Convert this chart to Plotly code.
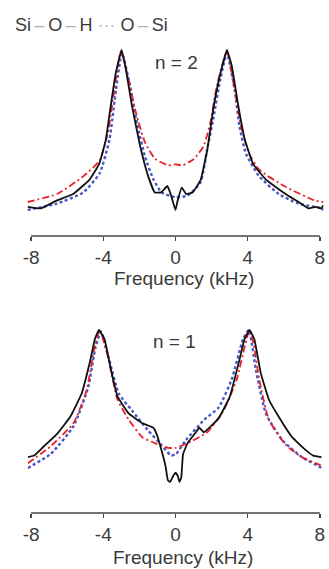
import plotly.graph_objects as go

# ---------------- data (frequency kHz, normalised intensity) ----------------
top_black_x = [-8.2, -7.47, -6.57, -5.67, -4.76, -4.22, -3.86, -3.59, -3.32, -2.99, -2.78, -2.41,
               -1.96, -1.51, -1.15, -0.79, -0.45, -0.24, 0.0, 0.12, 0.35, 0.59, 0.95, 1.40, 1.76,
               2.12, 2.48, 2.85, 3.12, 3.48, 3.84, 4.29, 5.01, 6.10, 6.82, 7.36, 7.8, 8.09, 8.2]
top_black_y = [0.02, 0.01, 0.06, 0.10, 0.19, 0.29, 0.44, 0.65, 0.85, 1.0, 0.90, 0.65,
               0.40, 0.21, 0.11, 0.11, 0.15, 0.09, 0.0, 0.06, 0.14, 0.10, 0.11, 0.19, 0.375,
               0.65, 0.85, 1.0, 0.90, 0.65, 0.44, 0.29, 0.19, 0.10, 0.05, 0.01, 0.02, 0.01, 0.03]

top_red_x = [-8.2, -6.56, -5.11, -4.2, -3.75, -3.39, -3.03, -2.67, -2.22, -1.68, -1.13, -0.41, 0.0,
             0.41, 1.03, 1.56, 1.92, 2.3, 2.85, 3.28, 3.64, 4.09, 4.65, 6.1, 7.7, 8.2]
top_red_y = [0.05, 0.10, 0.21, 0.31, 0.48, 0.75, 0.99, 0.85, 0.62, 0.42, 0.32, 0.28, 0.285,
             0.28, 0.32, 0.40, 0.54, 0.78, 0.99, 0.75, 0.52, 0.35, 0.25, 0.145, 0.06, 0.05]

top_blue_x = [-8.2, -6.56, -5.11, -4.2, -3.66, -3.3, -2.97, -2.58, -2.13, -1.68, -1.22, -0.77, 0.0,
              0.67, 1.38, 1.75, 2.11, 2.47, 2.85, 3.28, 3.55, 3.91, 4.64, 5.72, 6.81, 8.09, 8.2]
top_blue_y = [0.0, 0.04, 0.11, 0.23, 0.44, 0.75, 0.98, 0.81, 0.54, 0.33, 0.19, 0.11, 0.08,
              0.09, 0.17, 0.375, 0.58, 0.81, 0.98, 0.75, 0.52, 0.35, 0.21, 0.10, 0.04, 0.01, 0.0]

bot_black_x = [-8.18, -7.83, -7.29, -6.56, -5.83, -5.2, -4.75, -4.47, -4.24, -3.93, -3.57, -3.21,
               -2.58, -1.86, -1.23, -1.05, -0.79, -0.55, -0.42, -0.3, -0.12, 0.0, 0.12, 0.22, 0.32,
               0.42, 0.67, 1.13, 1.31, 1.58, 2.39, 3.01, 3.55, 3.82, 4.10, 4.37, 4.73, 5.18, 5.72,
               6.45, 7.17, 7.63, 8.09]
bot_black_y = [0.18, 0.19, 0.25, 0.33, 0.44, 0.59, 0.79, 0.94, 1.0, 0.94, 0.74, 0.57,
               0.46, 0.40, 0.37, 0.33, 0.23, 0.12, 0.03, 0.02, 0.06, 0.08, 0.06, 0.02, 0.05,
               0.2, 0.27, 0.34, 0.37, 0.34, 0.43, 0.57, 0.81, 0.94, 1.0, 0.94, 0.72, 0.55, 0.44,
               0.31, 0.23, 0.19, 0.18]

bot_red_x = [-8.18, -6.92, -5.65, -4.93, -4.48, -4.2, -3.75, -3.21, -2.58, -1.86, -1.14, -0.41, 0.0,
             0.67, 1.76, 2.66, 3.39, 3.85, 4.1, 4.35, 4.64, 5.18, 6.1, 7.0, 7.99, 8.18]
bot_red_y = [0.14, 0.25, 0.40, 0.61, 0.89, 1.0, 0.83, 0.55, 0.42, 0.31, 0.27, 0.24, 0.24,
             0.27, 0.34, 0.48, 0.68, 0.90, 1.0, 0.90, 0.68, 0.42, 0.26, 0.18, 0.13, 0.12]

bot_blue_x = [-8.18, -6.92, -5.65, -4.84, -4.43, -4.13, -3.68, -3.14, -2.41, -1.5, -0.79, -0.24, 0.03,
              0.58, 1.58, 2.39, 3.11, 3.74, 4.06, 4.46, 5.01, 5.92, 7.0, 8.09, 8.18]
bot_blue_y = [0.11, 0.20, 0.38, 0.63, 0.89, 0.99, 0.81, 0.59, 0.48, 0.35, 0.26, 0.19, 0.2,
              0.29, 0.42, 0.50, 0.68, 0.94, 1.0, 0.74, 0.46, 0.29, 0.18, 0.11, 0.10]

tick_vals = [-8, -4, 0, 4, 8]
tick_text = ["-8", "-4", "0", "4", "8"]

BLACK = "#111111"
RED = "#e8212b"
BLUE = "#4657c8"
TXT = "#3a3a3a"
FONT = "Liberation Sans, Arial, sans-serif"

W, H = 329, 569

fig = go.Figure()


def add(x, y, color, dash, width, xa, ya, smooth):
    fig.add_trace(go.Scatter(x=x, y=y, mode="lines", xaxis=xa, yaxis=ya,
                             line=dict(color=color, dash=dash, width=width,
                                       shape="spline", smoothing=smooth),
                             hoverinfo="skip", showlegend=False))


# draw order: blue, red, black on top
add(top_blue_x, top_blue_y, BLUE, "3px,2.5px", 2.4, "x", "y", 0.5)
add(top_red_x, top_red_y, RED, "7px,3px,2px,3px", 1.8, "x", "y", 0.5)
add(top_black_x, top_black_y, BLACK, "solid", 1.8, "x", "y", 0.3)
add(bot_blue_x, bot_blue_y, BLUE, "3px,2.5px", 2.4, "x2", "y2", 0.5)
add(bot_red_x, bot_red_y, RED, "7px,3px,2px,3px", 1.8, "x2", "y2", 0.5)
add(bot_black_x, bot_black_y, BLACK, "solid", 1.8, "x2", "y2", 0.3)

xdom = [23.0 / W, 325.4 / W]
xcommon = dict(range=[-8.2, 8.2], domain=xdom, showgrid=False, zeroline=False, showline=False,
               ticks="outside", ticklen=4, tickwidth=1.5, tickcolor="#444444",
               tickvals=tick_vals, ticktext=tick_text,
               tickfont=dict(family=FONT, size=19, color=TXT))
ycommon = dict(showgrid=False, zeroline=False, showline=False, showticklabels=False, ticks="")

fig.update_layout(
    width=W, height=H, margin=dict(l=0, r=0, t=0, b=0),
    paper_bgcolor="white", plot_bgcolor="white",
    xaxis=dict(xcommon, anchor="y"),
    yaxis=dict(ycommon, range=[-0.1625, 1.0625], domain=[1 - 236 / H, 1 - 40 / H], anchor="x"),
    xaxis2=dict(xcommon, anchor="y2"),
    yaxis2=dict(ycommon, range=[-0.1806, 1.0645], domain=[1 - 513 / H, 1 - 320 / H], anchor="x2"),
)

# axis lines spanning -8..8 only
for xr, yr in (("x", "y domain"), ("x2", "y2 domain")):
    fig.add_shape(type="line", xref=xr, yref=yr, x0=-8, x1=8, y0=0, y1=0,
                  line=dict(color="#444444", width=1.5))

sp = "\u2009"
dash_span = sp + "<span style='color:#b0b0b0'>–</span>" + sp
title = ("Si" + dash_span + "O" + dash_span + "H "
         "<span style='color:#c0c0c0'>···</span> O" + dash_span + "Si")

ann = [
    dict(text=title, x=8 / W, y=1 - 25 / H, xanchor="left", size=18),
    dict(text="n = 2", x=175 / W, y=1 - 63 / H, xanchor="center", size=19),
    dict(text="n = 1", x=173 / W, y=1 - 341 / H, xanchor="center", size=19),
    dict(text="Frequency (kHz)", x=183 / W, y=1 - 278 / H, xanchor="center", size=19),
    dict(text="Frequency (kHz)", x=182 / W, y=1 - 557 / H, xanchor="center", size=19),
]
for a in ann:
    fig.add_annotation(text=a["text"], x=a["x"], y=a["y"], xref="paper", yref="paper",
                       xanchor=a["xanchor"], yanchor="middle", showarrow=False,
                       font=dict(family=FONT, size=a["size"], color=TXT))

fig.write_html("out.html",
               config={"displayModeBar": False, "staticPlot": True},
               post_script="document.body.style.margin='0';document.body.style.padding='0';"
                           "document.body.style.overflow='hidden';")
